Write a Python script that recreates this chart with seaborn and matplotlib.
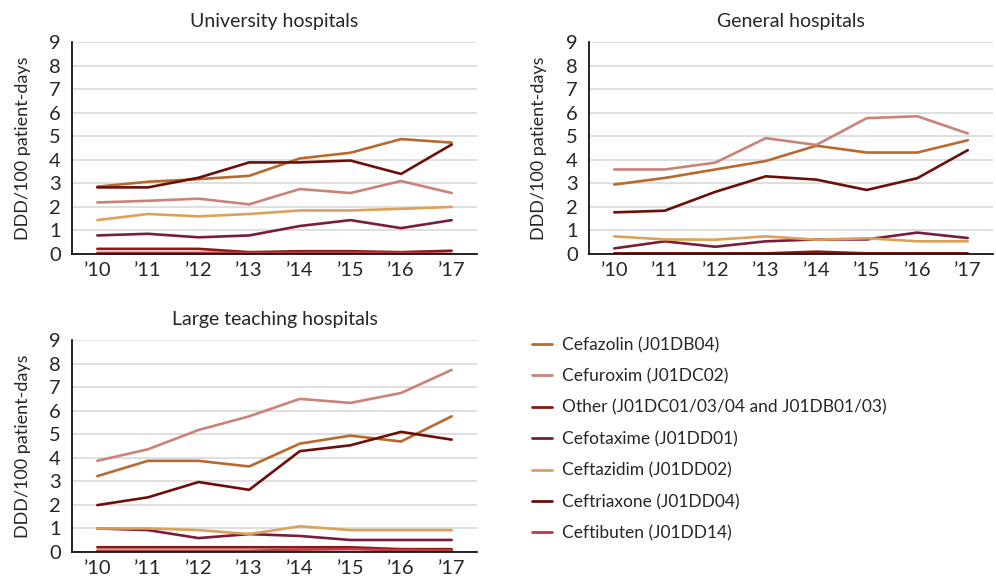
import pandas as pd
import matplotlib.pyplot as plt
import seaborn as sns
from matplotlib.lines import Line2D

# years on the x axis
years = ['’10', '’11', '’12', '’13', '’14', '’15', '’16', '’17']

series_names = [
    'Cefazolin (J01DB04)',
    'Cefuroxim (J01DC02)',
    'Other (J01DC01/03/04 and J01DB01/03)',
    'Cefotaxime (J01DD01)',
    'Ceftazidim (J01DD02)',
    'Ceftriaxone (J01DD04)',
    'Ceftibuten (J01DD14)',
]
colors = ['#b8692e', '#c98378', '#8a1a0f', '#7a1c3c', '#daa15a', '#6b1008', '#c23848']

# University hospitals
univ_cefazolin = [2.86, 3.07, 3.18, 3.32, 4.06, 4.30, 4.88, 4.73]
univ_cefuroxim = [2.19, 2.26, 2.35, 2.11, 2.76, 2.59, 3.10, 2.59]
univ_other = [0.22, 0.22, 0.22, 0.08, 0.12, 0.12, 0.08, 0.14]
univ_cefotaxime = [0.79, 0.86, 0.71, 0.79, 1.19, 1.44, 1.10, 1.44]
univ_ceftazidim = [1.44, 1.70, 1.60, 1.70, 1.85, 1.85, 1.92, 2.00]
univ_ceftriaxone = [2.83, 2.83, 3.24, 3.89, 3.89, 3.97, 3.40, 4.65]
univ_ceftibuten = [0.05, 0.05, 0.05, 0.05, 0.05, 0.05, 0.05, 0.0]

# General hospitals
gen_cefazolin = [2.95, 3.23, 3.59, 3.95, 4.60, 4.31, 4.31, 4.83]
gen_cefuroxim = [3.59, 3.59, 3.88, 4.92, 4.63, 5.77, 5.85, 5.12]
gen_other = [0.03, 0.03, 0.03, 0.03, 0.10, 0.03, 0.03, 0.03]
gen_cefotaxime = [0.24, 0.54, 0.31, 0.54, 0.62, 0.62, 0.91, 0.68]
gen_ceftazidim = [0.75, 0.62, 0.61, 0.75, 0.61, 0.67, 0.54, 0.54]
gen_ceftriaxone = [1.77, 1.84, 2.64, 3.30, 3.16, 2.72, 3.22, 4.41]
gen_ceftibuten = [0.02, 0.02, 0.02, 0.02, 0.02, 0.02, 0.02, 0.02]

# Large teaching hospitals
lt_cefazolin = [3.22, 3.87, 3.87, 3.63, 4.60, 4.94, 4.69, 5.76]
lt_cefuroxim = [3.87, 4.36, 5.18, 5.76, 6.50, 6.33, 6.75, 7.73]
lt_other = [0.20, 0.20, 0.20, 0.20, 0.20, 0.20, 0.12, 0.12]
lt_cefotaxime = [1.00, 0.93, 0.59, 0.76, 0.68, 0.51, 0.51, 0.51]
lt_ceftazidim = [1.00, 1.00, 0.93, 0.76, 1.09, 0.93, 0.93, 0.93]
lt_ceftriaxone = [1.99, 2.32, 2.97, 2.64, 4.28, 4.53, 5.10, 4.77]
lt_ceftibuten = [0.05, 0.05, 0.05, 0.05, 0.10, 0.12, 0.08, 0.06]

panels = [
    ('University hospitals', [univ_cefazolin, univ_cefuroxim, univ_other, univ_cefotaxime,
                              univ_ceftazidim, univ_ceftriaxone, univ_ceftibuten]),
    ('General hospitals', [gen_cefazolin, gen_cefuroxim, gen_other, gen_cefotaxime,
                           gen_ceftazidim, gen_ceftriaxone, gen_ceftibuten]),
    ('Large teaching hospitals', [lt_cefazolin, lt_cefuroxim, lt_other, lt_cefotaxime,
                                  lt_ceftazidim, lt_ceftriaxone, lt_ceftibuten]),
]

sns.set_style('white')
plt.rcParams['font.family'] = ['Lato', 'DejaVu Sans']

fig = plt.figure(figsize=(9.96, 5.8), dpi=100)
positions = [
    [0.0723, 0.562, 0.4066, 0.3655],
    [0.5914, 0.562, 0.4056, 0.3655],
    [0.0723, 0.0483, 0.4066, 0.3655],
]
label_pads = [13, 14, 13]

palette = dict(zip(series_names, colors))

for (title, values), pos, lp in zip(panels, positions, label_pads):
    ax = fig.add_axes(pos)
    rows = []
    for name, vals in zip(series_names, values):
        for i, v in enumerate(vals):
            rows.append({'x': i, 'value': v, 'series': name})
    df = pd.DataFrame(rows)
    sns.lineplot(data=df, x='x', y='value', hue='series', palette=palette,
                 hue_order=series_names, linewidth=1.9, legend=False, ax=ax)
    ax.set_xlim(-0.5, 7.5)
    ax.set_ylim(0, 9)
    ax.set_xticks(range(len(years)))
    ax.set_xticklabels(years)
    ax.set_yticks(range(10))
    ax.grid(axis='y', color='#dcdcdc', linewidth=1.3)
    ax.set_axisbelow(True)
    for s in ['top', 'right']:
        ax.spines[s].set_visible(False)
    for s in ['left', 'bottom']:
        ax.spines[s].set_color('black')
        ax.spines[s].set_linewidth(1.2)
    ax.tick_params(axis='both', length=0, labelsize=14.5, pad=6)
    ax.tick_params(axis='y', pad=8)
    ax.set_xlabel('')
    ax.set_ylabel('DDD/100 patient-days', fontsize=13, labelpad=lp)
    ax.set_title(title, fontsize=14, pad=11)

handles = [Line2D([0], [0], color=c, linewidth=2.0) for c in colors]
fig.legend(handles, series_names, loc='upper left', bbox_to_anchor=(0.518, 0.446),
           frameon=False, fontsize=12.5, handlelength=1.2, handletextpad=0.55,
           labelspacing=0.88)

fig.savefig('out.png', dpi=100)
